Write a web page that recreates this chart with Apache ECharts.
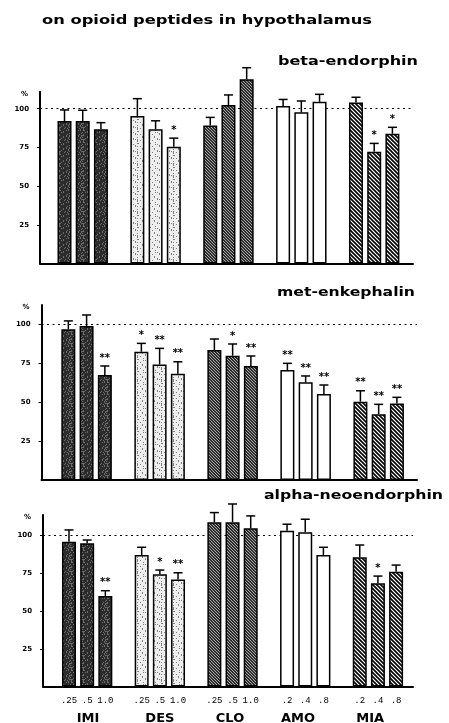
<!DOCTYPE html>
<html><head><meta charset="utf-8">
<script src="https://cdn.jsdelivr.net/npm/echarts@6/dist/echarts.min.js"></script>
<style>html,body{margin:0;padding:0;background:#fff}#c{width:449px;height:723px}</style>
</head><body><div id="c"></div>
<script>
// ---------- data ----------
const groups = ['IMI', 'DES', 'CLO', 'AMO', 'MIA'];
const doseLabels = ['.25', '.5', '1.0', '.25', '.5', '1.0', '.25', '.5', '1.0', '.2', '.4', '.8', '.2', '.4', '.8'];
const mainTitle = 'on opioid peptides in hypothalamus';
const panelTitles = ['beta-endorphin', 'met-enkephalin', 'alpha-neoendorphin'];
const yTicks = [25, 50, 75, 100];

const betaEnd    = [92, 92, 86.7,  95.3, 86.7, 75.4,  89.2, 102.4, 119,  101.7, 97.7, 104.5,  104.1, 72.2, 83.8];
const betaEndErr = [99.2, 99, 91,  106.5, 92.2, 81,   94.4, 108.9, 126.5, 106, 105, 109.3,   107.4, 77.6, 88];
const betaEndSig = ['', '', '',  '', '', '*',  '', '', '',  '', '', '',  '', '*', '*'];

const metEnk    = [96.6, 98.7, 67.3,  82.2, 74.1, 68.2,  83.3, 79.7, 73.1,  70.5, 62.6, 55.1,  50.2, 42.1, 49.1];
const metEnkErr = [102, 105.8, 73.1,  87.6, 84.4, 75.8,  90.4, 87.2, 79.5,  74.8, 66.7, 60.9,  57.2, 48.5, 53];
const metEnkSig = ['', '', '**',  '*', '**', '**',  '', '*', '**',  '**', '**', '**',  '**', '**', '**'];

const alphaNeo    = [96, 95, 60,  87.2, 74.4, 71,  108.9, 108.9, 104.9,  103.3, 102.3, 87.2,  85.7, 68.4, 76.1];
const alphaNeoErr = [103.8, 97.1, 63.5,  92.3, 77.2, 75.4,  115.3, 121, 113.1,  107.6, 110.9, 92.3,  93.8, 73.2, 80.5];
const alphaNeoSig = ['', '', '**',  '', '*', '**',  '', '', '',  '', '', '',  '', '*', ''];

// ---------- styling helpers ----------
function makeTile(w, h, draw) {
  const c = document.createElement('canvas'); c.width = w; c.height = h;
  draw(c.getContext('2d'), w, h); return c;
}
function stipple(base, dot, density, size, seed) {
  return makeTile(size, size, (ctx) => {
    ctx.fillStyle = base; ctx.fillRect(0, 0, size, size); ctx.fillStyle = dot;
    let s = seed;
    for (let i = 0; i < size; i++) for (let j = 0; j < size; j++) {
      s = (s * 1103515245 + 12345) & 0x7fffffff;
      if ((s % 1000) / 1000 < density) ctx.fillRect(i, j, 1, 1);
    }
  });
}
function hatch(base, line, period, lw) {
  return makeTile(period, period, (ctx, w, h) => {
    ctx.fillStyle = base; ctx.fillRect(0, 0, w, h);
    ctx.strokeStyle = line; ctx.lineWidth = lw; ctx.beginPath();
    for (const k of [-w, 0, w]) { ctx.moveTo(k - 1, -1); ctx.lineTo(k + w + 1, h + 1); }
    ctx.stroke();
  });
}
const fills = [
  { image: stipple('#2c2c2c', '#6a6a6a', 0.22, 12, 11), repeat: 'repeat' },
  { image: stipple('#eeeeee', '#808080', 0.2, 12, 5), repeat: 'repeat' },
  { image: hatch('#2e2e2e', '#a8a8a8', 3, 1), repeat: 'repeat' },
  '#ffffff',
  { image: hatch('#ffffff', '#000000', 4, 1.6), repeat: 'repeat' }
];

const panels = [
  { vals: betaEnd, errs: betaEndErr, sig: betaEndSig },
  { vals: metEnk, errs: metEnkErr, sig: metEnkSig },
  { vals: alphaNeo, errs: alphaNeoErr, sig: alphaNeoSig }
];
const layout = [
  { left: 40, top: 91.7, width: 373, height: 171.8, xMin: -1.345, xMax: 19.13, yMax: 111, titleX: 418, titleY: 62, titleW: 140 },
  { left: 41.5, top: 305, width: 375.5, height: 175, xMin: -1.47, xMax: 19.1, yMax: 112.2, titleX: 415, titleY: 293, titleW: 138 },
  { left: 43, top: 515, width: 370, height: 171.5, xMin: -1.43, xMax: 18.93, yMax: 113.7, titleX: 443, titleY: 496, titleW: 179 }
];
// slot position of each bar: group*4 + dose index
const barPos = doseLabels.map((_, i) => Math.floor(i / 3) * 4 + (i % 3));
const groupPos = [1.05, 5.0, 8.86, 12.6, 16.57];

const FONT = 'DejaVu Sans';
const mctx = document.createElement('canvas').getContext('2d');
function scaledText(text, size, target) {
  mctx.font = 'bold ' + size + 'px "' + FONT + '"';
  return target / mctx.measureText(text).width;
}

function errRender(sig) {
  return function (params, api) {
    const x = api.value(0), v = api.value(1), e = api.value(2);
    const a = api.coord([x, v]), b = api.coord([x, e]);
    const children = [
      { type: 'line', shape: { x1: a[0], y1: a[1], x2: b[0], y2: b[1] }, style: { stroke: '#000', lineWidth: 1.5 } },
      { type: 'line', shape: { x1: b[0] - 4.5, y1: b[1], x2: b[0] + 4.5, y2: b[1] }, style: { stroke: '#000', lineWidth: 1.5 } }
    ];
    const s = sig[params.dataIndex];
    if (s) children.push({ type: 'text', x: b[0], y: b[1] - 8,
      style: { text: s, fill: '#000', font: 'bold 10px "' + FONT + '"', align: 'center', verticalAlign: 'middle' } });
    return { type: 'group', children };
  };
}

const grid = [], xAxis = [], yAxis = [], series = [], graphic = [];
layout.forEach((L, k) => {
  grid.push({ left: L.left, top: L.top, width: L.width, height: L.height, outerBoundsMode: 'none', containLabel: false });
  xAxis.push({
    gridIndex: k, type: 'value', min: L.xMin, max: L.xMax,
    axisLine: { show: true, onZero: false, lineStyle: { color: '#000', width: 2 } },
    axisTick: { show: false }, splitLine: { show: false },
    axisLabel: k === 2 ? {
      show: true, customValues: barPos, margin: 10, color: '#000',
      fontFamily: 'Liberation Mono', fontSize: 9,
      formatter: (v) => { const i = barPos.indexOf(Math.round(v)); return i >= 0 ? doseLabels[i] : ''; }
    } : { show: false }
  });
  yAxis.push({
    gridIndex: k, type: 'value', min: 0, max: L.yMax,
    name: '%', nameLocation: 'end', nameGap: -2,
    nameTextStyle: { align: 'right', verticalAlign: 'middle', padding: [0, 12, 0, 0], fontFamily: FONT, fontWeight: 'bold', fontSize: 7, color: '#000' },
    axisLine: { show: true, onZero: false, lineStyle: { color: '#000', width: 2 } },
    axisTick: { show: true, customValues: yTicks, length: 3, lineStyle: { color: '#000', width: 1 } },
    axisLabel: { show: true, customValues: yTicks, margin: 11, color: '#000', fontFamily: FONT, fontWeight: 'bold', fontSize: 7 },
    splitLine: { show: false }
  });
  const P = panels[k];
  series.push({
    type: 'bar', xAxisIndex: k, yAxisIndex: k, barWidth: 14, z: 3, clip: false,
    data: P.vals.map((v, i) => ({ value: [barPos[i], v], itemStyle: { color: fills[Math.floor(i / 3)] } })),
    itemStyle: { borderColor: '#000', borderWidth: 1.5 },
    emphasis: { disabled: true }, animation: false,
    markLine: { silent: true, symbol: 'none', z: 1, animation: false, label: { show: false },
      lineStyle: { type: [2, 3.5], color: '#000', width: 1 }, data: [{ yAxis: 100 }] }
  });
  series.push({
    type: 'custom', xAxisIndex: k, yAxisIndex: k, z: 4, animation: false, clip: false,
    encode: { x: 0, y: 1 },
    data: P.vals.map((v, i) => [barPos[i], v, P.errs[i]]),
    renderItem: errRender(P.sig)
  });
  graphic.push({ type: 'text', x: L.titleX, y: L.titleY, scaleX: scaledText(panelTitles[k], 12, L.titleW),
    style: { text: panelTitles[k], fill: '#000', font: 'bold 12px "' + FONT + '"', align: 'right', verticalAlign: 'middle' } });
});
xAxis.push({
  gridIndex: 2, type: 'value', min: layout[2].xMin, max: layout[2].xMax, position: 'bottom',
  axisLine: { show: false, onZero: false }, axisTick: { show: false }, splitLine: { show: false },
  axisLabel: { show: true, customValues: groupPos, margin: 26, color: '#000', fontFamily: FONT, fontWeight: 'bold', fontSize: 13,
    formatter: (v) => { const i = groupPos.indexOf(v); return i >= 0 ? groups[i] : ''; } }
});
graphic.push({ type: 'text', x: 42, y: 21, scaleX: scaledText(mainTitle, 12.5, 330),
  style: { text: mainTitle, fill: '#000', font: 'bold 12.5px "' + FONT + '"', align: 'left', verticalAlign: 'middle' } });

const chart = echarts.init(document.getElementById('c'), null, { renderer: 'canvas' });
chart.setOption({ animation: false, backgroundColor: '#fff', grid, xAxis, yAxis, series, graphic });
</script></body></html>
